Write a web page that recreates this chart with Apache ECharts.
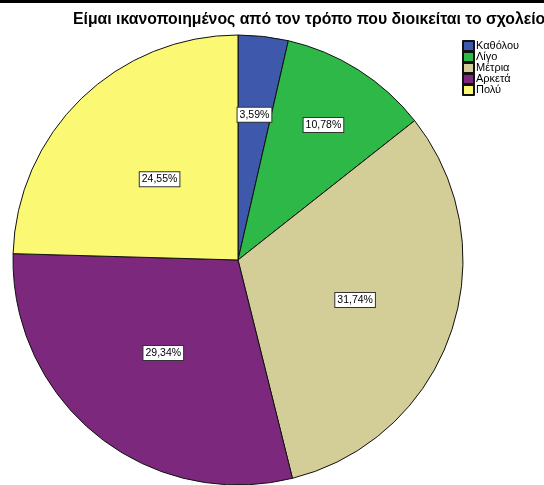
<!DOCTYPE html>
<html>
<head>
<meta charset="utf-8">
<script src="https://cdn.jsdelivr.net/npm/echarts@6/dist/echarts.min.js"></script>
<style>
  html, body { margin: 0; padding: 0; background: #fff; }
  #chart { width: 544px; height: 485px; }
</style>
</head>
<body>
<div id="chart"></div>
<script>
// Response categories and their shares (percent)
const categories = ['Καθόλου', 'Λίγο', 'Μέτρια', 'Αρκετά', 'Πολύ'];
const shares = [3.59, 10.78, 31.74, 29.34, 24.55];
const sliceColors = ['#3E58AC', '#2EB848', '#D3CE97', '#7C287D', '#FBF873'];
const titleText = 'Είμαι ικανοποιημένος από τον τρόπο που διοικείται το σχολείο';

// Radial placement of each value label, as a fraction of the pie radius
const labelRadiusFrac = [0.65, 0.71, 0.55, 0.53, 0.5];

const CX = 238, CY = 260, R = 225;
const total = shares.reduce((a, b) => a + b, 0);

function fmt(v) {
  return v.toFixed(2).replace('.', ',') + '%';
}

const chart = echarts.init(document.getElementById('chart'), null, { renderer: 'canvas' });

chart.setOption({
  backgroundColor: '#ffffff',
  animation: false,
  graphic: [{
    type: 'rect',
    shape: { x: 0, y: 0, width: 544, height: 3 },
    style: { fill: '#000' },
    z: 100
  }],
  title: {
    text: titleText,
    left: 73,
    top: 12,
    padding: 0,
    textStyle: {
      fontFamily: 'Liberation Sans, Arial, sans-serif',
      fontSize: 15.8,
      fontWeight: 'bold',
      color: '#000'
    }
  },
  legend: {
    orient: 'vertical',
    left: 462,
    top: 40,
    itemWidth: 11,
    itemHeight: 10,
    itemGap: -1,
    icon: 'rect',
    padding: 0,
    textStyle: {
      fontFamily: 'Liberation Sans, Arial, sans-serif',
      fontSize: 11,
      color: '#000',
      padding: [0, 0, 0, -3]
    },
    data: categories
  },
  series: [{
    type: 'pie',
    center: [CX, CY],
    radius: [0, R],
    startAngle: 90,
    clockwise: true,
    avoidLabelOverlap: false,
    data: categories.map((c, i) => ({
      name: c,
      value: shares[i],
      itemStyle: { color: sliceColors[i] }
    })),
    itemStyle: {
      borderColor: '#111',
      borderWidth: 1
    },
    label: {
      show: true,
      position: 'inside',
      formatter: p => fmt(p.value),
      fontFamily: 'Liberation Sans, Arial, sans-serif',
      fontSize: 10.5,
      color: '#000',
      backgroundColor: '#fff',
      borderColor: '#333',
      borderWidth: 1,
      padding: [2, 2, 1, 2]
    },
    labelLine: { show: false },
    emphasis: { disabled: true },
    labelLayout: function (params) {
      const i = params.dataIndex;
      let before = 0;
      for (let k = 0; k < i; k++) before += shares[k];
      const midDeg = (before + shares[i] / 2) / total * 360;
      const a = midDeg * Math.PI / 180;
      const d = labelRadiusFrac[i] * R;
      return {
        x: CX + d * Math.sin(a),
        y: CY - d * Math.cos(a),
        align: 'center',
        verticalAlign: 'middle'
      };
    }
  }]
});
</script>
</body>
</html>
